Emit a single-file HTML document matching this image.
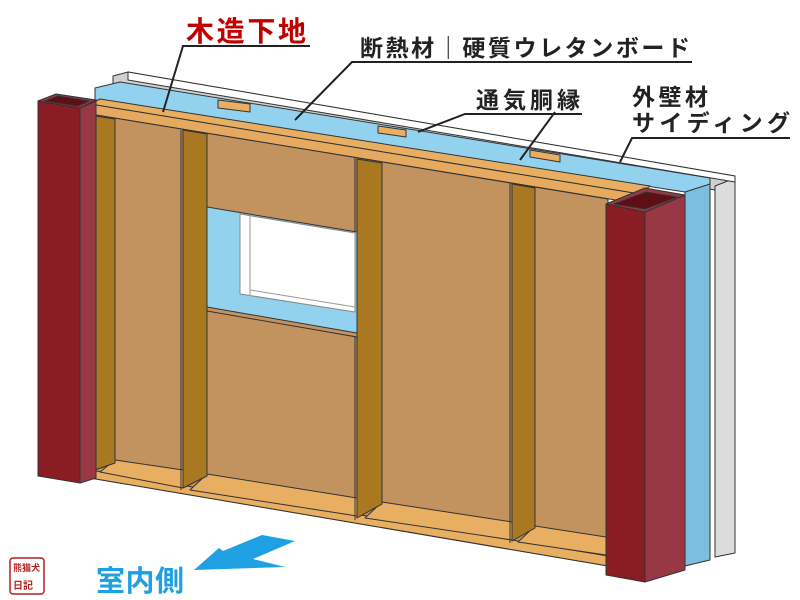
<!DOCTYPE html>
<html><head><meta charset="utf-8"><style>
html,body{margin:0;padding:0;background:#fff;width:800px;height:600px;overflow:hidden}
svg{display:block}
text{font-family:"Liberation Sans","Noto Sans CJK JP",sans-serif;font-weight:bold}
</style></head><body>
<svg width="800" height="600" viewBox="0 0 800 600" xmlns="http://www.w3.org/2000/svg">
<g stroke="#333" stroke-width="1" stroke-linejoin="round">
<!-- siding -->
<polygon points="113,76 128,72 735,176 735,190 715,190 113,92" fill="#d0d0d0"/>
<polygon points="715,186 735,178 735,553 715,557" fill="#dcdcdc"/>
<polygon points="128,72 735,176 735,182 128,80" fill="#fff"/>
<!-- blue insulation -->
<polygon points="95,88 120,82 710,178 710,186 685,192 95,100" fill="#93d2ef"/>
<polygon points="685,192 710,184 710,560 685,566" fill="#7cbedd"/>
<!-- furring strips top -->
<polygon points="218,100 250,104 250,112 218,108" fill="#e8ae62"/>
<polygon points="378,126 406,130 406,137 378,133" fill="#e8ae62"/>
<polygon points="530,150 560,155 560,162 530,157" fill="#e8ae62"/>
<!-- top plate -->
<polygon points="90,104 100,99 650,186 640,194" fill="#e8ae62"/>
<polygon points="90,104 640,194 640,204 90,114" fill="#e5aa60"/>
<!-- wall board -->
<polygon points="90,114 608,199 608,566 90,478" fill="#c3935f"/>
<!-- bottom plate floors -->
<polygon points="90,470 608,556 608,566 90,478" fill="#e8ae62"/>
<polygon points="115,460 183,470 183,488 100,472" fill="#e8ae62"/>
<polygon points="207,474 357,498 357,516 190,490" fill="#e8ae62"/>
<polygon points="382,502 512,522 512,540 365,518" fill="#e8ae62"/>
<polygon points="535,526 606,537 606,555 518,542" fill="#e8ae62"/>
<!-- studs -->
<polygon points="95,116 115,119 115,463 95,470" fill="#a97820"/>
<polygon points="183,130 207,134 207,476 183,488" fill="#a97820"/>
<polygon points="357,159 382,163 382,504 357,518" fill="#a97820"/>
<polygon points="512,184 535,188 535,528 512,541" fill="#a97820"/>
<line x1="90" y1="116" x2="90" y2="478"/>
<line x1="181" y1="130" x2="181" y2="490"/>
<line x1="355" y1="158" x2="355" y2="520"/>
<line x1="510" y1="183" x2="510" y2="543"/>
<!-- window -->
<polygon points="207,207 357,232 357,337 207,310" fill="#93d2ef"/>
<polygon points="240,214 355,233 355,312 240,294" fill="#fff" stroke="#888"/>
<line x1="250" y1="216" x2="250" y2="296" stroke="#999"/>
<line x1="250" y1="290" x2="355" y2="307" stroke="#999"/>
<polygon points="207,307 357,333 357,337 207,311" fill="#c3935f"/>
<!-- left column -->
<polygon points="38,101 80,108 80,483 38,476" fill="#8a1c24"/>
<polygon points="80,108 96,101 96,478 80,483" fill="#983845"/>
<polygon points="38,101 56,94 96,100 80,108" fill="#983845"/>
<polygon points="45,101 58,96 89,101 78,106" fill="#5e0f16"/>
<!-- right column -->
<polygon points="606,204 645,212 645,582 606,575" fill="#8a1c24"/>
<polygon points="645,212 685,195 685,570 645,582" fill="#983845"/>
<polygon points="606,204 645,188 685,195 645,212" fill="#983845"/>
<polygon points="614,204 646,192 677,197 645,209" fill="#5e0f16"/>
</g>
<!-- leader lines -->
<g stroke="#222" stroke-width="2" fill="none">
<polyline points="310,46 183,46 163,112"/>
<polyline points="692,62 352,62 295,120"/>
<polyline points="582,114 465,114 418,132"/>
<polyline points="555,112 520,160"/>
<polyline points="790,138 632,138 620,162"/>
</g>
<text x="186" y="41" font-size="28" fill="#c00000" textLength="120">木造下地</text>
<text x="360" y="56" font-size="23" fill="#222" textLength="330">断熱材｜硬質ウレタンボード</text>
<text x="476" y="108" font-size="23" fill="#222" textLength="104">通気胴縁</text>
<text x="632" y="105" font-size="23" fill="#222" textLength="76">外壁材</text>
<text x="632" y="131" font-size="23" fill="#222" textLength="158">サイディング</text>
<!-- arrow -->
<polygon points="194,570 219,548 223,551 262,535 295,541 253,559 285,567" fill="#1ea0e2"/>
<text x="96" y="591" font-size="29" fill="#1ea0e2" textLength="88">室内側</text>
<!-- logo -->
<rect x="10" y="558" width="34" height="36" rx="3" fill="#fff" stroke="#b52020" stroke-width="1.5"/>
<text x="13" y="571" font-size="9" fill="#b52020">熊猫犬</text>
<text x="13" y="589" font-size="10" fill="#b52020">日記</text>
</svg>
</body></html>
